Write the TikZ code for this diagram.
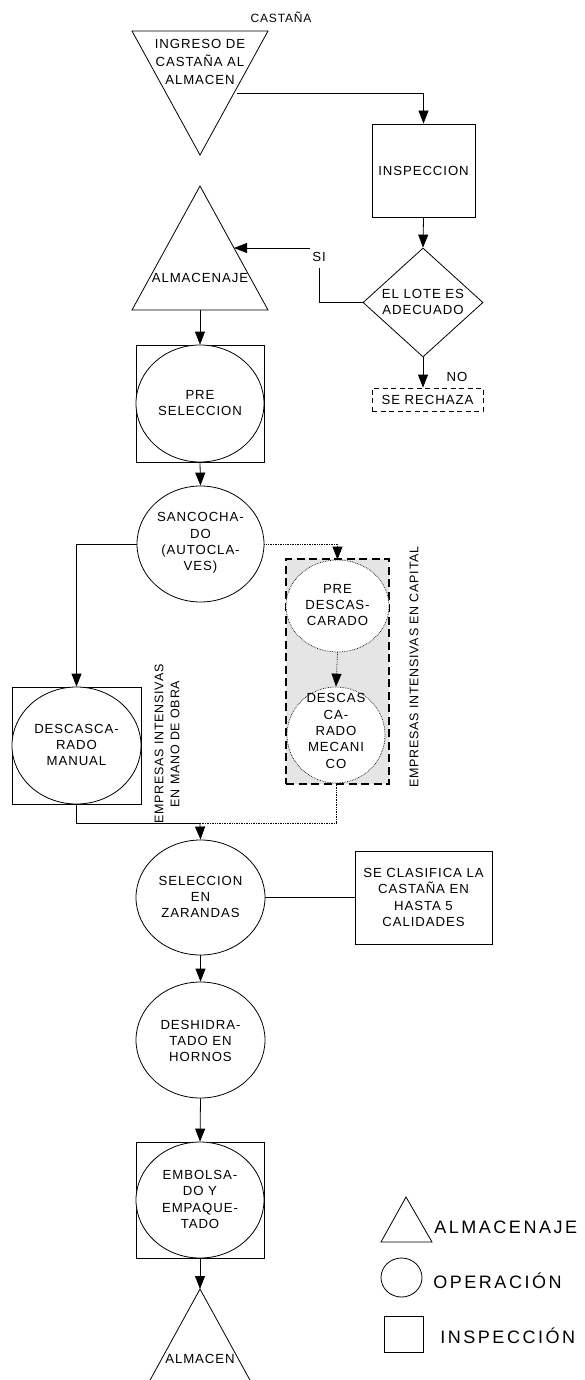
\documentclass[tikz,border=0pt]{standalone}
\usepackage{fontspec}
\setmainfont{Liberation Sans}[LetterSpace=7]
\newfontfamily\legfont{Liberation Sans}[LetterSpace=14]
\newfontfamily\rotfont{Liberation Sans}[LetterSpace=6]
\usetikzlibrary{arrows.meta,shapes.geometric}
\begin{document}
\begin{tikzpicture}[x=1pt,y=-1pt,line width=0.8pt,
  every node/.style={inner sep=0pt},
  lbl/.style={align=center,font=\fontsize{13.2}{16.3}\selectfont},
  opn/.style={ellipse,draw,fill=white},
  box/.style={rectangle,draw},
  arr/.style={-{Triangle[length=13pt,width=10pt]}},
  dotl/.style={densely dotted,line width=0.7pt},
  leg/.style={font=\legfont\fontsize{18}{20}\selectfont}]
\useasboundingbox (0,0) rectangle (584,1380);

% --- ingreso
\node[lbl,font=\fontsize{12}{14}\selectfont] (castana) at (281,17) {CASTAÑA};
\draw (132,31) -- (268,31) -- (200,155) -- cycle;
\node[lbl,font=\fontsize{13.2}{18}\selectfont] (ingreso) at (200,62) {INGRESO DE\\CASTAÑA AL\\ALMACEN};
\coordinate (ingR) at (237,93);

% --- inspeccion
\node[box,lbl,minimum width=103,minimum height=93] (insp) at (423.5,170.5) {INSPECCION};

% --- decision
\node[diamond,draw,minimum width=120,minimum height=109] (dia) at (423,302.5) {};
\node[lbl] (diat) at (423,302) {EL LOTE ES\\ADECUADO};
\node[draw,dashed,dash pattern=on 5pt off 3.5pt,lbl,minimum width=111,minimum height=23] (rech) at (427.5,399.5) {SE RECHAZA};
\node[lbl] (no) at (457,377) {NO};
\node[lbl] (si) at (319,257) {SI};
\coordinate (siIn) at (310,248);
\coordinate (almR) at (234,248);

% --- almacenaje
\draw (200,186) -- (268,310) -- (132,310) -- cycle;
\node[lbl] (alm) at (200,278) {ALMACENAJE};
\coordinate (almB) at (200,310);

% --- pre seleccion
\node[box,minimum width=128,minimum height=117] (preselbox) at (200,403.5) {};
\node[opn,minimum width=128,minimum height=117] (presel) at (200,403.5) {};
\node[lbl] (preselt) at (200,403) {PRE\\SELECCION};

% --- sancochado
\node[opn,minimum width=127,minimum height=116] (sanco) at (200.5,544) {};
\node[lbl] (sancot) at (200.5,543) {SANCOCHA-\\DO\\(AUTOCLA-\\VES)};

% --- manual
\node[box,minimum width=129,minimum height=117] (manbox) at (76.5,745.5) {};
\node[opn,minimum width=129,minimum height=117] (man) at (76.5,745.5) {};
\node[lbl] (mant) at (76.5,745) {DESCASCA-\\RADO\\MANUAL};
\node[lbl,rotate=90,font=\rotfont\fontsize{12.5}{16}\selectfont] (mo) at (167,744) {EMPRESAS INTENSIVAS\\EN MANO DE OBRA};

% --- capital group
\node[draw,fill=black!10,dashed,dash pattern=on 8pt off 4.5pt,line width=1.2pt,minimum width=103,minimum height=225] (grp) at (337.5,671.5) {};
\node[opn,dotl,minimum width=103,minimum height=92] (pred) at (337.5,606) {};
\node[lbl] (predt) at (337.5,605) {PRE\\DESCAS-\\CARADO};
\node[opn,dotl,minimum width=98,minimum height=96] (mec) at (336,735) {};
\node[lbl] (mect) at (336,731) {DESCAS\\CA-\\RADO\\MECANI\\CO};
\node[lbl,rotate=90,font=\rotfont\fontsize{12.5}{16}\selectfont] (cap) at (414,667) {EMPRESAS INTENSIVAS EN CAPITAL};

\coordinate (join) at (200,823);

% --- seleccion
\node[opn,minimum width=129,minimum height=115] (sel) at (200.5,897.5) {};
\node[lbl] (selt) at (200.5,897) {SELECCION\\EN\\ZARANDAS};
\node[box,lbl,minimum width=137,minimum height=93] (clas) at (423.5,897.5) {SE CLASIFICA LA\\CASTAÑA EN\\HASTA 5\\CALIDADES};

% --- deshidratado
\node[opn,minimum width=129,minimum height=116] (desh) at (200.5,1040) {};
\node[lbl] (desht) at (200.5,1041) {DESHIDRA-\\TADO EN\\HORNOS};

% --- embolsado
\node[box,minimum width=128,minimum height=116] (embbox) at (200,1200) {};
\node[opn,minimum width=128,minimum height=116] (emb) at (200,1200) {};
\node[lbl] (embt) at (200,1199.5) {EMBOLSA-\\DO Y\\EMPAQUE-\\TADO};

% --- almacen final
\coordinate (finA) at (200,1289);
\draw (150.1,1380) -- (finA) -- (249.9,1380);
\node[lbl] (fin) at (200,1359) {ALMACEN};

% --- connectors
\draw[arr] (ingR) -| (insp.north);
\draw[arr] (insp.south) -- (dia.north);
\draw (dia.west) -| ([yshift=-6]si.south);
\draw[arr] (siIn) -- (almR);
\draw[arr] (dia.south) -- (dia.south |- rech.north);
\draw[arr] (almB) -- (preselbox.north);
\draw[arr] (preselbox.south) -- (sanco.north);
\draw[arr] (sanco.west) -| (manbox.north);
\draw[arr,dotl] (sanco.east) -| (pred.north);
\draw[arr,dotl] (pred.south) -- (mec.north);
\draw (manbox.south) |- (join);
\draw[dotl] (mec.south) |- (join);
\draw[arr] (join) -- (sel.north);
\draw (sel.east) -- (clas.west);
\draw[arr] (sel.south) -- (desh.north);
\draw[arr] (desh.south) -- (embbox.north);
\draw[arr] (embbox.south) -- (finA);

% --- legend
\draw (406,1197) -- (432,1242) -- (381,1242) -- cycle;
\node[leg,anchor=base west] (legA) at (434,1233) {ALMACENAJE};
\node[ellipse,draw,minimum width=41,minimum height=39] (legOp) at (401.5,1277.5) {};
\node[leg,anchor=base west] (legB) at (433,1288) {OPERACIÓN};
\node[box,minimum width=39,minimum height=36] (legIn) at (403.5,1334) {};
\node[leg,anchor=base west] (legC) at (440,1343) {INSPECCIÓN};
\end{tikzpicture}
\end{document}
